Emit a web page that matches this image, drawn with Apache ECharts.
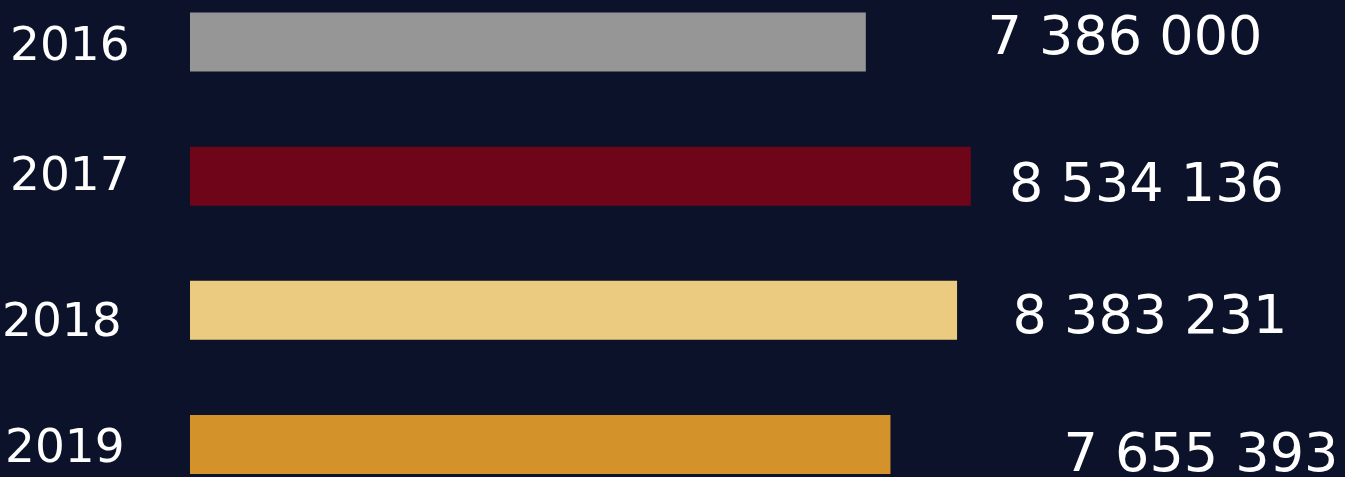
<!DOCTYPE html>
<html>
<head>
<meta charset="utf-8">
<script src="https://cdn.jsdelivr.net/npm/echarts@6/dist/echarts.min.js"></script>
<style>
html,body{margin:0;padding:0;background:#0b1229;}
#chart{width:1345px;height:477px;}
</style>
</head>
<body>
<div id="chart"></div>
<script>
const years = ['2016', '2017', '2018', '2019'];
const values = [7386000, 8534136, 8383231, 7655393];
const colors = ['#969696', '#6f0519', '#eacb80', '#d4922a'];

// label layout tweaks (pixels) — not data
const valueShiftX = [0, 43, 50, 152];
const valueShiftY = [-2, 11, 9, 12];
const yearShiftX = [8, 8, 0, 3];
const yearShiftY = [6, 2, 13, 5];

function fmt(v) {
  return String(v).replace(/\B(?=(\d{3})+(?!\d))/g, ' ');
}

function richFor(shX, shY, size) {
  const r = {};
  shX.forEach((sx, i) => {
    const dy = shY[i];
    r['s' + i] = {
      fontSize: size,
      color: '#ffffff',
      fontFamily: 'DejaVu Sans',
      padding: [dy > 0 ? 2 * dy : 0, 0, dy < 0 ? -2 * dy : 0, sx]
    };
  });
  return r;
}

const chart = echarts.init(document.getElementById('chart'));
chart.setOption({
  backgroundColor: '#0b1229',
  animation: false,
  grid: { left: 190, right: 240, top: 42, bottom: 32.5, containLabel: false, outerBoundsMode: 'none' },
  xAxis: {
    type: 'value', min: 0, max: 10000000,
    show: false
  },
  yAxis: [
    {
      type: 'category', data: years, inverse: true, boundaryGap: false,
      axisLine: { show: false }, axisTick: { show: false }, splitLine: { show: false },
      axisLabel: {
        align: 'left', margin: 188,
        formatter: (v, i) => '{s' + i + '|' + v + '}',
        rich: richFor(yearShiftX, yearShiftY, 47)
      }
    },
    {
      type: 'category', data: values.map(fmt), inverse: true, boundaryGap: false,
      position: 'right',
      axisLine: { show: false }, axisTick: { show: false }, splitLine: { show: false },
      axisLabel: {
        align: 'center', margin: 20,
        formatter: (v, i) => '{s' + i + '|' + v + '}',
        rich: richFor(valueShiftX, valueShiftY, 54)
      }
    }
  ],
  series: [{
    type: 'bar',
    yAxisIndex: 0,
    barWidth: 59,
    data: values.map((v, i) => ({ value: v, itemStyle: { color: colors[i] } }))
  }]
});
</script>
</body>
</html>
